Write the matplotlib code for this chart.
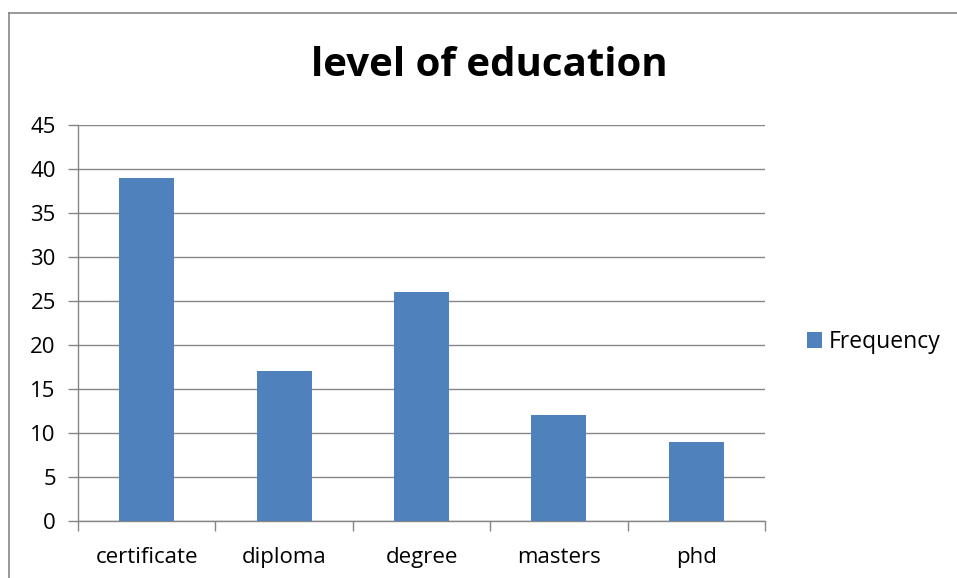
import matplotlib.pyplot as plt
from matplotlib.patches import Patch
from matplotlib.lines import Line2D

categories = ['certificate', 'diploma', 'degree', 'masters', 'phd']
frequency = [39, 17, 26, 12, 9]

plt.rcParams['font.family'] = ['Open Sans', 'DejaVu Sans']

fig = plt.figure(figsize=(9.57, 5.78), dpi=100)
W, H = 957, 578
ax = fig.add_axes([78 / W, 1 - 521 / H, (765 - 78) / W, (521 - 125) / H])

x = list(range(len(categories)))
bar_color = '#4F81BD'
ax.bar(x, frequency, width=0.4, color=bar_color, zorder=3)

ax.set_xlim(-0.5, len(categories) - 0.5)
ax.set_ylim(0, 45)
ax.set_yticks(range(0, 46, 5))
ax.set_xticks([i - 0.5 for i in range(len(categories) + 1)])
ax.set_xticklabels([])
ax.set_xticks(x, minor=True)
ax.set_xticklabels(categories, minor=True)
ax.tick_params(axis='x', which='minor', length=0, pad=19, labelsize=16)
ax.tick_params(axis='x', which='major', length=7, color='#868686', width=1)
ax.tick_params(axis='y', length=7, color='#868686', width=1, labelsize=16, pad=9)
ax.grid(axis='y', color='#868686', linewidth=1, zorder=0)
for s in ['top', 'right']:
    ax.spines[s].set_visible(False)
for s in ['left', 'bottom']:
    ax.spines[s].set_color('#868686')
    ax.spines[s].set_linewidth(1)

fig.text(489 / W, 1 - 65 / H, 'level of education', ha='center', va='center',
         fontsize=29, fontweight='bold')

handles = [Patch(facecolor=bar_color, label='Frequency')]
fig.legend(handles=handles, loc='center left', bbox_to_anchor=(796 / W, 1 - 342 / H),
           frameon=False, fontsize=16.5, handlelength=0.65, handleheight=0.65,
           handletextpad=0.3, borderpad=0)

# outer chart frame
fig.add_artist(Line2D([9 / W, 9 / W], [0, 1 - 13 / H], color='#868686', linewidth=1.2))
fig.add_artist(Line2D([9 / W, 1], [1 - 13 / H, 1 - 13 / H], color='#868686', linewidth=1.2))

fig.savefig('out.png', dpi=100)
